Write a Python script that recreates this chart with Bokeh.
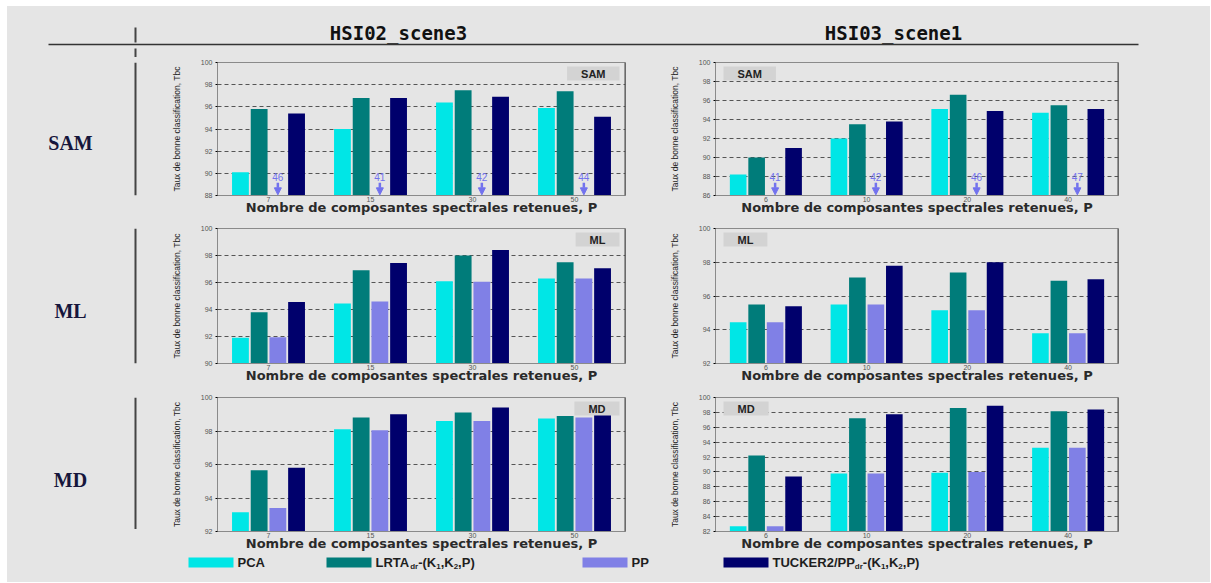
from bokeh.plotting import figure
from bokeh.layouts import column, row
from bokeh.models import (ColumnDataSource, FactorRange, FixedTicker, Label, Span,
                          Arrow, NormalHead, Range1d)
from bokeh.transform import dodge
from bokeh.core.properties import value
from bokeh.embed import file_html
from bokeh.resources import INLINE

# ---------------- data ----------------
P_HSI02 = ["7", "15", "30", "50"]
P_HSI03 = ["6", "10", "20", "40"]
datasets = ["HSI02_scene3", "HSI03_scene1"]
classifiers = ["SAM", "ML", "MD"]
methods = ["PCA", "LRTA", "PP", "TUCKER"]

# HSI02_scene3
h2_sam_pca = [90.1, 94.0, 96.4, 95.9]
h2_sam_lrta = [95.8, 96.8, 97.5, 97.4]
h2_sam_pp = [46, 41, 42, 44]
h2_sam_tucker = [95.4, 96.8, 96.9, 95.1]

h2_ml_pca = [91.9, 94.45, 96.1, 96.3]
h2_ml_lrta = [93.8, 96.9, 98.0, 97.5]
h2_ml_pp = [91.95, 94.6, 96.05, 96.3]
h2_ml_tucker = [94.55, 97.45, 98.4, 97.05]

h2_md_pca = [93.15, 98.1, 98.6, 98.75]
h2_md_lrta = [95.65, 98.8, 99.1, 98.9]
h2_md_pp = [93.4, 98.05, 98.6, 98.8]
h2_md_tucker = [95.8, 99.0, 99.4, 99.0]

# HSI03_scene1
h3_sam_pca = [88.2, 92.0, 95.1, 94.7]
h3_sam_lrta = [90.0, 93.5, 96.6, 95.5]
h3_sam_pp = [41, 42, 46, 47]
h3_sam_tucker = [91.0, 93.8, 94.9, 95.1]

h3_ml_pca = [94.45, 95.5, 95.15, 93.8]
h3_ml_lrta = [95.5, 97.1, 97.4, 96.9]
h3_ml_pp = [94.45, 95.5, 95.15, 93.8]
h3_ml_tucker = [95.4, 97.8, 98.0, 97.0]

h3_md_pca = [82.7, 89.8, 89.9, 93.25]
h3_md_lrta = [92.2, 97.2, 98.6, 98.15]
h3_md_pp = [82.7, 89.8, 90.0, 93.25]
h3_md_tucker = [89.4, 97.75, 98.9, 98.4]

# y ranges (min, max)
h2_yrange = [(88, 100), (90, 100), (92, 100)]
h3_yrange = [(86, 100), (92, 100), (82, 100)]

XLABEL = "Nombre de composantes spectrales retenues, P"
YLABEL = "Taux de bonne classification, Tbc"

# ---------------- styles ----------------
BG = "#e5e5e5"
COLORS = ["#00e6e6", "#007c7a", "#8080e6", "#00006c"]
OFFS = [-0.275, -0.0917, 0.0917, 0.275]
BAR_W = 0.165
ARROW_C = "#7272ee"

LABEL_W = 161
LEFT_W, RIGHT_W = 492, 550
TOTAL_W = LABEL_W + LEFT_W + RIGHT_W
HEADER_H = 51
ROW_H = [162, 168, 168]
ROW_TOP = [5, 9, 10]
ROW_BOT = 24
LEGEND_H = 27
GAP_L, GAP_T = 7, 6
BGSTYLE = {"background-color": BG}


def blank(w, h, color=BG):
    f = figure(width=w, height=h, x_range=Range1d(0, w), y_range=Range1d(h, 0),
               output_backend="svg", toolbar_location=None,
               x_axis_location=None, y_axis_location=None, min_border=0)
    f.min_border_left = f.min_border_right = f.min_border_top = f.min_border_bottom = 0
    f.xgrid.visible = False
    f.ygrid.visible = False
    f.outline_line_color = None
    f.background_fill_color = color
    f.border_fill_color = color
    return f


def panel(cats, yr, pca, lrta, pp, tucker, tag, side, width, mbl, mbr, height, mbt):
    ymin, ymax = yr
    p = figure(width=width, height=height, x_range=FactorRange(factors=cats),
               y_range=Range1d(ymin, ymax), output_backend="svg", toolbar_location=None,
               min_border_left=mbl, min_border_right=mbr, min_border_top=mbt,
               min_border_bottom=ROW_BOT)
    p.background_fill_color = BG
    p.border_fill_color = BG
    p.outline_line_color = "#8a8a8a"
    src = ColumnDataSource(dict(P=cats, PCA=pca, LRTA=lrta, PP=pp, TUCKER=tucker))
    for name, off, col in zip(methods, OFFS, COLORS):
        p.vbar(x=dodge("P", off, range=p.x_range), top=name, bottom=ymin, width=BAR_W,
               source=src, fill_color=col, line_color=None)
    # values below the axis range
    below = [i for i, v in enumerate(pp) if v < ymin]
    if below:
        span = ymax - ymin
        n = len(below)
        bs = ColumnDataSource(dict(
            P=[cats[i] for i in below], v=[str(pp[i]) for i in below],
            xs=[i + 0.5 + OFFS[2] for i in below],
            ty=[ymin + 0.14 * span] * n, ys=[ymin + 0.095 * span] * n,
            ye=[ymin + 0.005 * span] * n))
        p.text(x=dodge("P", OFFS[2], range=p.x_range), y="ty", text="v", source=bs,
               text_color=ARROW_C, text_font=value("Liberation Sans"),
               text_font_size="10px", text_align="center", text_baseline="middle")
        p.add_layout(Arrow(end=NormalHead(size=7, fill_color=ARROW_C, line_color=ARROW_C),
                           x_start="xs", y_start="ys", x_end="xs", y_end="ye", source=bs,
                           line_color=ARROW_C, line_width=2.5))
    ticks = list(range(ymin, ymax + 1, 2))
    p.yaxis.ticker = FixedTicker(ticks=ticks)
    p.ygrid.ticker = FixedTicker(ticks=ticks)
    p.xgrid.visible = False
    p.ygrid.grid_line_color = "#555555"
    p.ygrid.grid_line_dash = "4 3"
    p.ygrid.grid_line_width = 1
    for ax in (p.xaxis[0], p.yaxis[0]):
        ax.axis_line_color = "#8a8a8a"
        ax.major_tick_in = 0
        ax.minor_tick_line_color = None
        ax.major_label_text_font = "Liberation Sans"
        ax.major_label_text_font_size = "7px"
        ax.major_label_text_color = "#555555"
    p.xaxis.major_tick_out = 0
    p.xaxis.major_label_standoff = 1
    p.xaxis.axis_label = XLABEL
    p.xaxis.axis_label_text_font = "DejaVu Sans"
    p.xaxis.axis_label_text_font_style = "bold"
    p.xaxis.axis_label_text_font_size = "13px"
    p.xaxis.axis_label_text_color = "#2a2a2a"
    p.xaxis.axis_label_standoff = -5
    p.yaxis.major_tick_out = 2
    p.yaxis.major_label_standoff = 3
    p.yaxis.axis_label = YLABEL
    p.yaxis.axis_label_text_font = "Liberation Sans"
    p.yaxis.axis_label_text_font_style = "normal"
    p.yaxis.axis_label_text_font_size = "8.5px"
    p.yaxis.axis_label_text_color = "#1e1e1e"
    p.yaxis.axis_label_standoff = 16
    p.add_layout(Span(location=len(cats), dimension="height", line_color="#4a4a4a",
                      line_width=2))
    if side == "right":
        lab = Label(x=len(cats), y=ymax, x_offset=-6, y_offset=-4, text=tag,
                    text_align="right", text_baseline="top")
    else:
        lab = Label(x=0, y=ymax, x_offset=8, y_offset=-4, text=tag,
                    text_align="left", text_baseline="top")
    lab.text_font = "Liberation Sans"
    lab.text_font_style = "bold"
    lab.text_font_size = "11px"
    lab.text_color = "#222222"
    lab.background_fill_color = "#d3d3d3"
    lab.padding = (14, 1)
    p.add_layout(lab)
    return p


# ---------------- header ----------------
header = blank(TOTAL_W, HEADER_H)
header.text(x=[391, 886], y=[26, 26], text=datasets, text_font=value("DejaVu Sans Mono"),
            text_font_style="bold", text_font_size="19px", text_align="center",
            text_baseline="middle", text_color="#111111")
header.segment(x0=[41], y0=[38], x1=[1131], y1=[38], line_color="#333333", line_width=1.5)
header.segment(x0=[128, 128], y0=[21, 42], x1=[128, 128], y1=[36, HEADER_H],
               line_color="#444444", line_width=2)

# ---------------- rows ----------------
h2 = [(h2_sam_pca, h2_sam_lrta, h2_sam_pp, h2_sam_tucker),
      (h2_ml_pca, h2_ml_lrta, h2_ml_pp, h2_ml_tucker),
      (h2_md_pca, h2_md_lrta, h2_md_pp, h2_md_tucker)]
h3 = [(h3_sam_pca, h3_sam_lrta, h3_sam_pp, h3_sam_tucker),
      (h3_ml_pca, h3_ml_lrta, h3_ml_pp, h3_ml_tucker),
      (h3_md_pca, h3_md_lrta, h3_md_pp, h3_md_tucker)]
label_y = [98, 103, 103]
vline_end = [162, 168, 165]

rows = []
for r in range(3):
    lf = blank(LABEL_W, ROW_H[r])
    lf.text(x=[63], y=[label_y[r]], text=[classifiers[r]], text_font=value("Liberation Serif"),
            text_font_style="bold", text_font_size="20px", text_align="center",
            text_baseline="middle", text_color="#16163c")
    lf.segment(x0=[128], y0=[0], x1=[128], y1=[vline_end[r]], line_color="#444444",
               line_width=2)
    left = panel(P_HSI02, h2_yrange[r], *h2[r], classifiers[r], "right",
                 LEFT_W, 49, 35, ROW_H[r], ROW_TOP[r])
    right = panel(P_HSI03, h3_yrange[r], *h3[r], classifiers[r], "left",
                  RIGHT_W, 55, RIGHT_W - 55 - 403, ROW_H[r], ROW_TOP[r])
    rows.append(row(lf, left, right, spacing=0, styles=BGSTYLE))

# ---------------- legend ----------------
AW = {" ": 278, "(": 333, ")": 333, ",": 278, "-": 333, "/": 278, "1": 556, "2": 556,
      "A": 722, "C": 722, "E": 667, "K": 722, "L": 611, "P": 667, "R": 722, "T": 611,
      "U": 722, "d": 611, "r": 389}

legend = blank(TOTAL_W, LEGEND_H)
sw_x = [181, 319, 575, 716]
legend.rect(x=[x + 22.5 for x in sw_x], y=[7] * 4, width=45, height=10,
            fill_color=COLORS, line_color=None)
legend_parts = [
    [("PCA", False)],
    [("LRTA", False), ("dr", True), ("-(K", False), ("1", True), (",K", False),
     ("2", True), (",P)", False)],
    [("PP", False)],
    [("TUCKER2/PP", False), ("dr", True), ("-(K", False), ("1", True), (",K", False),
     ("2", True), (",P)", False)],
]
for sx, parts in zip(sw_x, legend_parts):
    x = sx + 49
    for txt, sub in parts:
        fs = 8 if sub else 13
        legend.text(x=[x], y=[7 + (4 if sub else 0)], text=[txt],
                    text_font=value("Liberation Sans"), text_font_style="bold",
                    text_font_size=f"{fs}px", text_baseline="middle", text_color="#1e1e1e")
        x += sum(AW.get(c, 600) for c in txt) / 1000 * fs

inner = column(header, *rows, legend, spacing=0, styles=BGSTYLE)
TOTAL_H = HEADER_H + sum(ROW_H) + LEGEND_H
top_pad = blank(GAP_L + TOTAL_W, GAP_T, "white")
left_pad = blank(GAP_L, TOTAL_H, "white")
layout = column(top_pad, row(left_pad, inner, spacing=0), spacing=0)
open("out.html", "w").write(file_html(layout, INLINE))
